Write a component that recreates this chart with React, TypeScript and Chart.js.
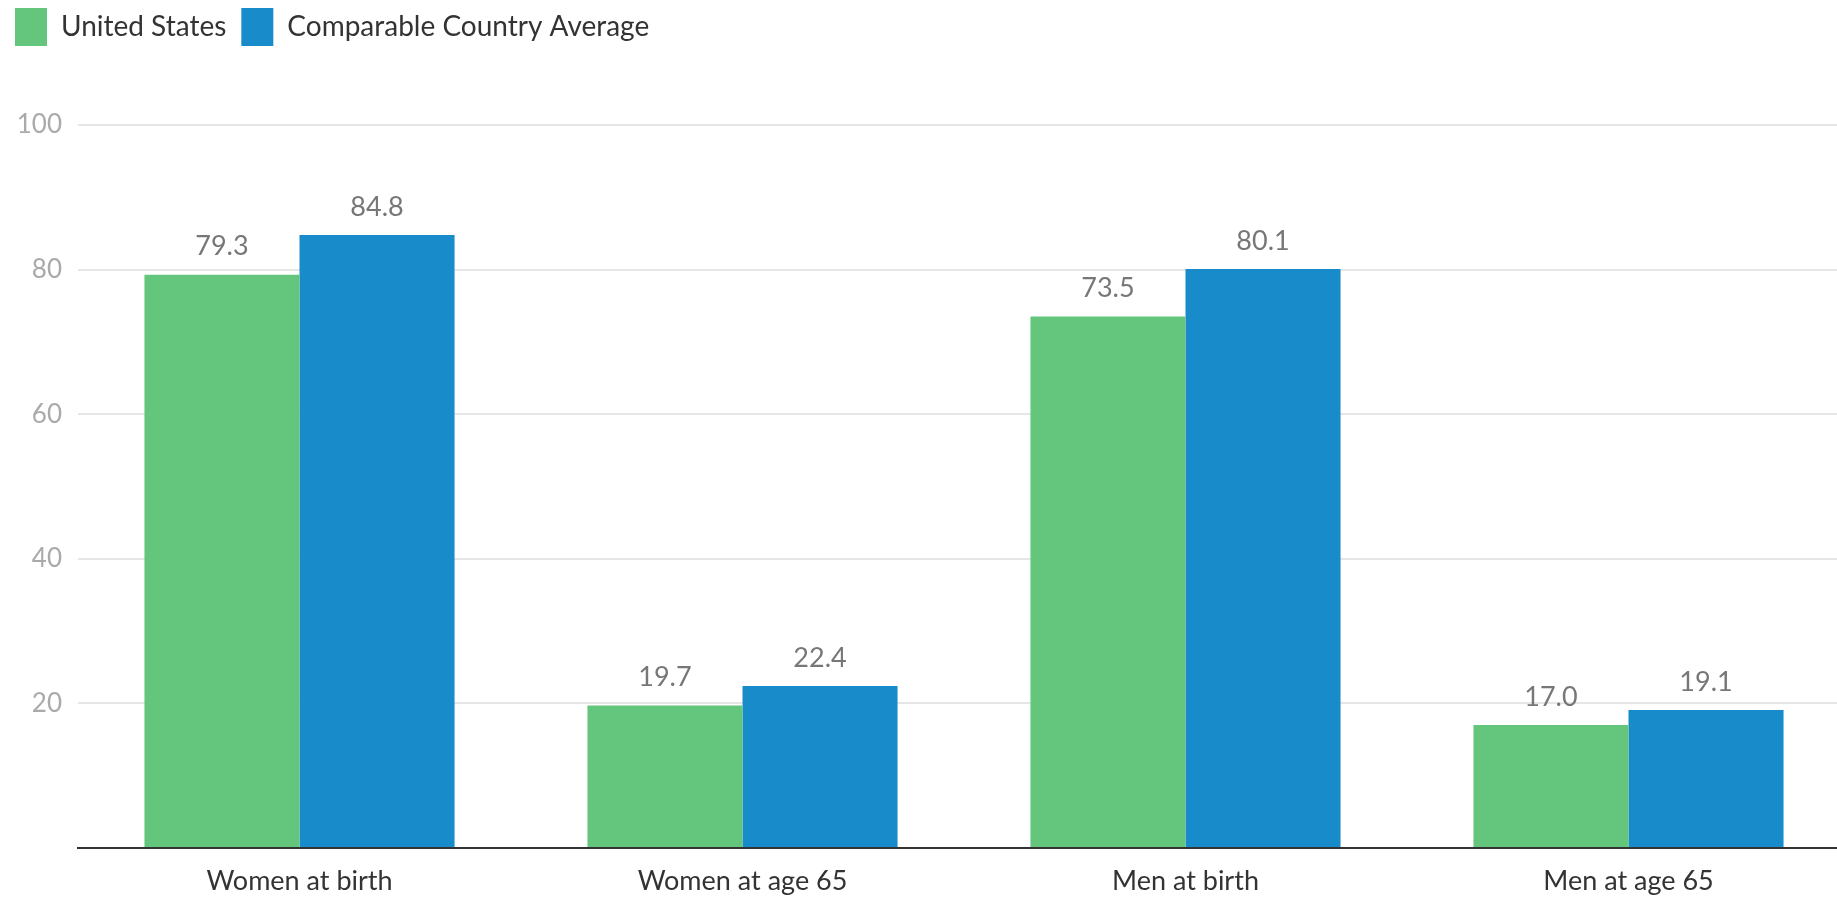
import React, { useEffect, useRef } from "react";
import { Chart, registerables } from "chart.js";

Chart.register(...registerables);

const categories = ["Women at birth", "Women at age 65", "Men at birth", "Men at age 65"];
const unitedStates = [79.3, 19.7, 73.5, 17.0];
const comparableAverage = [84.8, 22.4, 80.1, 19.1];
const seriesNames = ["United States", "Comparable Country Average"];
const yTicks = [0, 20, 40, 60, 80, 100];

const FONT = "Lato, 'Open Sans', sans-serif";

const valueLabels = {
  id: "valueLabels",
  afterDatasetsDraw(chart: any) {
    const ctx = chart.ctx;
    ctx.save();
    ctx.font = `27px ${FONT}`;
    ctx.fillStyle = "#777777";
    ctx.textAlign = "center";
    ctx.textBaseline = "middle";
    chart.data.datasets.forEach((ds: any, i: number) => {
      const meta = chart.getDatasetMeta(i);
      meta.data.forEach((bar: any, j: number) => {
        const v = ds.data[j] as number;
        ctx.fillText(v.toFixed(1), bar.x, bar.y - 28);
      });
    });
    ctx.restore();
  },
};

const legendHeight = {
  id: "legendHeight",
  beforeLayout(chart: any) {
    const lg = chart.legend;
    if (lg && !lg.__patched) {
      const orig = lg.fit.bind(lg);
      lg.fit = function () {
        orig();
        this.height = 132;
      };
      lg.__patched = true;
    }
  },
};

export default function App() {
  const ref = useRef<HTMLCanvasElement | null>(null);

  useEffect(() => {
    if (!ref.current) return;
    const chart = new Chart(ref.current, {
      type: "bar",
      data: {
        labels: categories,
        datasets: [
          {
            label: seriesNames[0],
            data: unitedStates,
            backgroundColor: "#64C67C",
            borderWidth: 0,
          },
          {
            label: seriesNames[1],
            data: comparableAverage,
            backgroundColor: "#188BCB",
            borderWidth: 0,
          },
        ],
      },
      options: {
        animation: false,
        responsive: true,
        maintainAspectRatio: false,
        layout: { padding: { top: -7, left: 0, right: 0, bottom: 0 } },
        datasets: { bar: { categoryPercentage: 0.7, barPercentage: 1.0 } },
        plugins: {
          legend: {
            display: true,
            position: "top",
            align: "start",
            labels: {
              boxWidth: 32,
              boxHeight: 38,
              padding: 15,
              color: "#333333",
              font: { family: FONT, size: 28 },
            },
          },
          tooltip: { enabled: false },
          title: { display: false },
        },
        scales: {
          x: {
            grid: { display: false, drawTicks: false },
            border: { display: true, color: "#333333", width: 2 },
            ticks: {
              color: "#333333",
              font: { family: FONT, size: 27 },
              padding: 17,
            },
            afterFit(scale: any) {
              scale.height = 51;
            },
          },
          y: {
            min: 0,
            max: 100,
            afterBuildTicks(scale: any) {
              scale.ticks = yTicks.map((v) => ({ value: v }));
            },
            grid: {
              color: (c: any) => (c.tick && c.tick.value === 0 ? "rgba(0,0,0,0)" : "#e6e6e6"),
              lineWidth: 2,
              drawTicks: false,
            },
            border: { display: false },
            ticks: {
              color: "#aaaaaa",
              font: { family: FONT, size: 26 },
              padding: 16,
              callback: (v: any) => (v === 0 ? "" : String(v)),
            },
            afterFit(scale: any) {
              scale.width = 78;
            },
          },
        },
      },
      plugins: [valueLabels, legendHeight],
    });
    return () => chart.destroy();
  }, []);

  return (
    <div style={{ position: "fixed", left: 0, top: 0, width: 1837, height: 899, overflow: "hidden", background: "#ffffff" }}>
      <div style={{ position: "relative", width: 1850, height: 899 }}>
        <canvas ref={ref} />
      </div>
    </div>
  );
}
